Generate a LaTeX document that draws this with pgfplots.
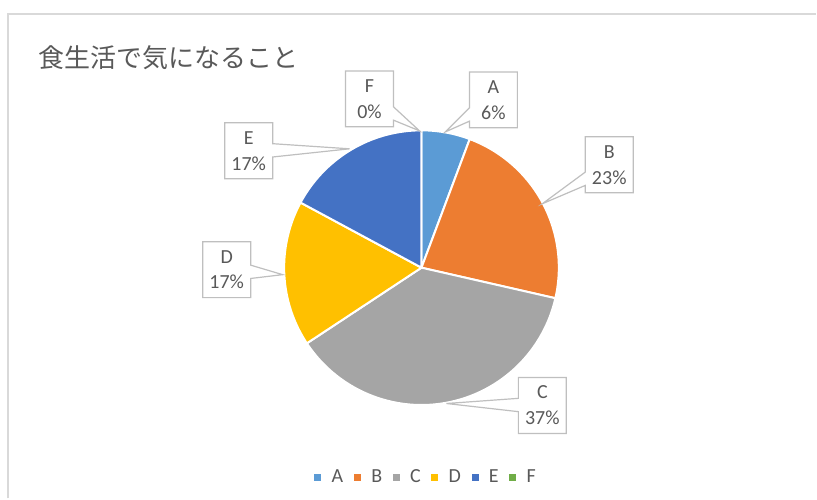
\documentclass[border=0pt]{standalone}
\usepackage{pgfplots}
\pgfplotsset{compat=1.18}
\usepackage{pgfplotstable}
\usetikzlibrary{shapes.callouts}
\usepackage{fontspec}
\setmainfont{Carlito}
\newfontfamily\cjk{Noto Sans CJK JP}
\definecolor{cA}{HTML}{5B9BD5}
\definecolor{cB}{HTML}{ED7D31}
\definecolor{cC}{HTML}{A5A5A5}
\definecolor{cD}{HTML}{FFC000}
\definecolor{cE}{HTML}{4472C4}
\definecolor{cF}{HTML}{70AD47}
\definecolor{txt}{HTML}{595959}
\definecolor{bord}{HTML}{BFBFBF}
\definecolor{frame}{HTML}{D9D9D9}

\tikzset{label callout/.style={rectangle callout, draw=bord, line width=0.9pt, fill=white,
    minimum width=36pt, minimum height=42pt, inner sep=0pt, align=center,
    callout pointer width=10pt, text=txt,
    font=\fontsize{15pt}{19.5pt}\selectfont}}
\pgfplotsset{legsq/.style={legend image code/.code={\fill[#1, draw=none] (0pt,-2.6pt) rectangle (5.2pt,2.6pt);\path[draw=none] (0pt,0pt) -- (11pt,0pt);}}}

\pgfplotstableread{
label value
A 2
B 8
C 13
D 6
E 6
F 0
}\piedata
\pgfplotstablegetelem{0}{value}\of\piedata \let\vA\pgfplotsretval
\pgfplotstablegetelem{1}{value}\of\piedata \let\vB\pgfplotsretval
\pgfplotstablegetelem{2}{value}\of\piedata \let\vC\pgfplotsretval
\pgfplotstablegetelem{3}{value}\of\piedata \let\vD\pgfplotsretval
\pgfplotstablegetelem{4}{value}\of\piedata \let\vE\pgfplotsretval
\pgfplotstablegetelem{5}{value}\of\piedata \let\vF\pgfplotsretval
\pgfmathsetmacro\tot{\vA+\vB+\vC+\vD+\vE+\vF}
\pgfmathsetmacro\aO{90}
\pgfmathsetmacro\aA{\aO-360*\vA/\tot}
\pgfmathsetmacro\aB{\aA-360*\vB/\tot}
\pgfmathsetmacro\aC{\aB-360*\vC/\tot}
\pgfmathsetmacro\aD{\aC-360*\vD/\tot}
\pgfmathsetmacro\aE{\aD-360*\vE/\tot}

\begin{document}%
\begin{tikzpicture}
\begin{axis}[
  scale only axis, width=612.75pt, height=374.25pt,
  xmin=0, xmax=817, ymin=0, ymax=499,
  hide axis, clip=false,
  legend style={at={(axis cs:427,21)}, anchor=center, draw=none, fill=none,
    legend columns=6, font=\fontsize{15pt}{17pt}\selectfont\color{txt},
    /tikz/every even column/.append style={column sep=6pt},
    legend cell align=left, inner sep=0pt},
]
\path (axis cs:0,0) rectangle (axis cs:817,499);
\draw[frame, line width=1.5pt] (axis cs:8,0) -- (axis cs:8,485) -- (axis cs:817,485);
\node[anchor=west, text=txt, font=\cjk\fontsize{19.5pt}{22pt}\selectfont] at (axis cs:34,441) {食生活で気になること};

\addplot[fill=cA, draw=white, line width=1.5pt, domain=\aA:\aO, samples=30, forget plot] ({422+137.5*cos(x)},{231+137.5*sin(x)}) -- (axis cs:422,231) -- cycle;
\addplot[fill=cB, draw=white, line width=1.5pt, domain=\aB:\aA, samples=60, forget plot] ({422+137.5*cos(x)},{231+137.5*sin(x)}) -- (axis cs:422,231) -- cycle;
\addplot[fill=cC, draw=white, line width=1.5pt, domain=\aC:\aB, samples=90, forget plot] ({422+137.5*cos(x)},{231+137.5*sin(x)}) -- (axis cs:422,231) -- cycle;
\addplot[fill=cD, draw=white, line width=1.5pt, domain=\aD:\aC, samples=50, forget plot] ({422+137.5*cos(x)},{231+137.5*sin(x)}) -- (axis cs:422,231) -- cycle;
\addplot[fill=cE, draw=white, line width=1.5pt, domain=\aE:\aD, samples=50, forget plot] ({422+137.5*cos(x)},{231+137.5*sin(x)}) -- (axis cs:422,231) -- cycle;

\node[label callout, callout absolute pointer={(axis cs:446,367)}] at (axis cs:494,399) {A\\6\%};
\node[label callout, callout absolute pointer={(axis cs:543,295)}] at (axis cs:610,334) {B\\23\%};
\node[label callout, callout absolute pointer={(axis cs:447,95)}] at (axis cs:543,93) {C\\37\%};
\node[label callout, callout absolute pointer={(axis cs:283,224)}] at (axis cs:227,229) {D\\17\%};
\node[label callout, callout absolute pointer={(axis cs:350,350)}] at (axis cs:249,348) {E\\17\%};
\node[label callout, callout absolute pointer={(axis cs:420,368)}] at (axis cs:370,400) {F\\0\%};

\addlegendimage{legsq=cA}\addlegendentry{A}
\addlegendimage{legsq=cB}\addlegendentry{B}
\addlegendimage{legsq=cC}\addlegendentry{C}
\addlegendimage{legsq=cD}\addlegendentry{D}
\addlegendimage{legsq=cE}\addlegendentry{E}
\addlegendimage{legsq=cF}\addlegendentry{F}
\end{axis}
\end{tikzpicture}%
\end{document}
